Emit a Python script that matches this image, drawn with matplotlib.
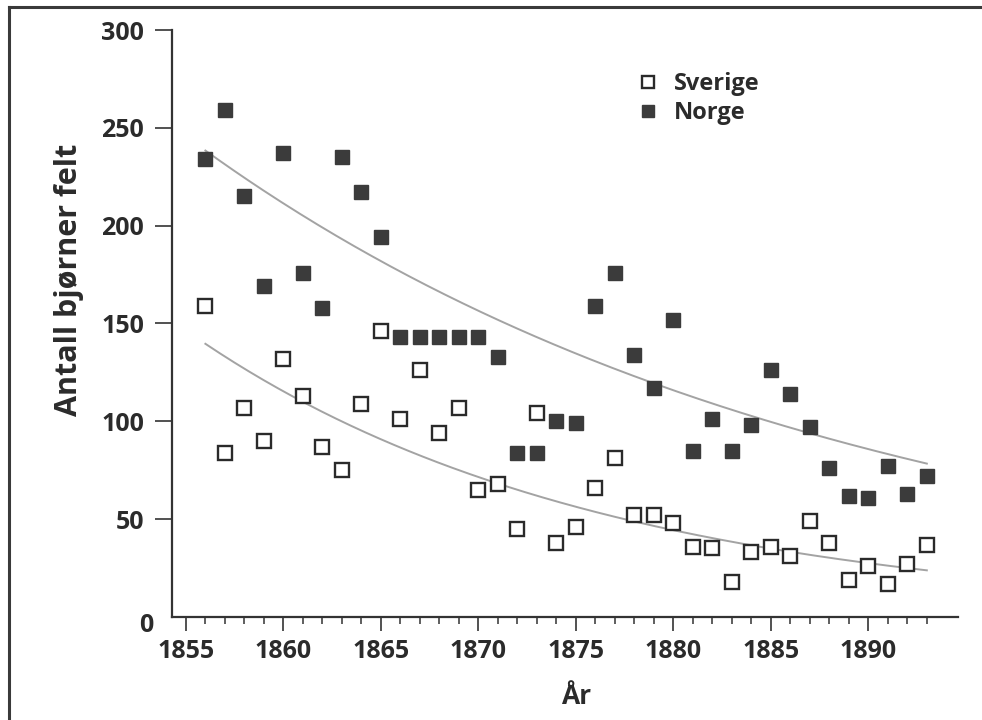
import matplotlib
matplotlib.use("Agg")
import matplotlib.pyplot as plt
from matplotlib.lines import Line2D
from matplotlib.ticker import FixedLocator
import numpy as np

#-------------------------------------------
#              Data
#-------------------------------------------
years = np.arange(1856, 1894)

sverige = [159, 84, 107, 90, 132, 113, 87, 75, 109, 146,
           101, 126, 94, 107, 65, 68, 45, 104, 38, 46,
           66, 81, 52, 52, 48, 36, 35, 18, 33, 36,
           31, 49, 38, 19, 26, 17, 27, 37]

norge = [234, 259, 215, 169, 237, 176, 158, 235, 217, 194,
         143, 143, 143, 143, 143, 133, 84, 84, 100, 99,
         159, 176, 134, 117, 152, 85, 101, 85, 98, 126,
         114, 97, 76, 62, 61, 77, 63, 72]

major_years = list(range(1855, 1891, 5))
minor_years = [y for y in range(1855, 1894) if y % 5]
y_ticks = [50, 100, 150, 200, 250, 300]

FONT = ["Open Sans", "DejaVu Sans"]
TXT = "#2b2b2b"


def exp_trend(x, y, weighted):
    # exponential trendline: straight line through ln(y)
    w = y if weighted else None
    k, c = np.polyfit(x, np.log(y), 1, w=w)
    xx = np.linspace(x[0], x[-1], 200)
    return xx, np.exp(c + k * xx)


plt.rcParams["font.family"] = FONT
plt.rcParams["font.weight"] = "bold"

fig = plt.figure(figsize=(9.82, 7.2), dpi=100)
ax = fig.add_axes([0.1748, 0.1431, 0.9756 - 0.1748, 0.9583 - 0.1431])

# trend lines
for series, weighted in ((norge, True), (sverige, False)):
    tx, ty = exp_trend(years, np.array(series, dtype=float), weighted)
    ax.plot(tx, ty, color="#a3a3a3", lw=1.4, zorder=1)

ax.plot(years, sverige, ls="none", marker="s", ms=10, mfc="white",
        mec="#2a2a2a", mew=1.7, label="Sverige", zorder=3)
ax.plot(years, norge, ls="none", marker="s", ms=10, mfc="#3b3b3b",
        mec="#3b3b3b", mew=1.0, label="Norge", zorder=3)

ax.set_xlim(1854.27, 1894.6)
ax.set_ylim(0, 300)

ax.xaxis.set_major_locator(FixedLocator(major_years))
ax.xaxis.set_minor_locator(FixedLocator(minor_years))
ax.set_yticks(y_ticks)

for s in ("top", "right"):
    ax.spines[s].set_visible(False)
for s in ("left", "bottom"):
    ax.spines[s].set_linewidth(1.6)
    ax.spines[s].set_color("#333333")

ax.tick_params(axis="x", which="major", direction="out", length=10, width=1.2,
               color="#333333", labelsize=18, labelcolor=TXT, pad=6)
ax.tick_params(axis="x", which="minor", direction="out", length=5, width=1.1,
               color="#333333")
ax.tick_params(axis="y", direction="out", length=12, width=1.2,
               color="#333333", labelsize=18, labelcolor=TXT, pad=8)

# the zero sits a little below the axis line, without a tick
ax.annotate("0", xy=(0, 0), xycoords=("axes fraction", "data"),
            xytext=(-13.5, -6.5), textcoords="offset points",
            ha="right", va="center", fontsize=18, color=TXT, fontweight="bold")

fig.text(576 / 982, 1 - 697 / 720, "År", ha="center", va="center",
         fontsize=19, color=TXT, fontweight="bold")
fig.text(69 / 982, 1 - 280 / 720, "Antall bjørner felt", rotation=90,
         ha="center", va="center", fontsize=22, color=TXT, fontweight="bold")

ax.legend(loc="upper left", bbox_to_anchor=(0.5785, 0.948), frameon=False,
          fontsize=17, handlelength=0.8, handletextpad=0.7, labelspacing=0.2,
          borderpad=0, markerscale=0.9, labelcolor=TXT)

# scan border (top and left edges only)
fig.add_artist(Line2D([9 / 982, 1], [1 - 7 / 720, 1 - 7 / 720],
                      transform=fig.transFigure, color="#3a3a3a", lw=2.2))
fig.add_artist(Line2D([9 / 982, 9 / 982], [0, 1 - 7 / 720],
                      transform=fig.transFigure, color="#3a3a3a", lw=2.2))

fig.savefig("out.png", dpi=100, facecolor="white")
